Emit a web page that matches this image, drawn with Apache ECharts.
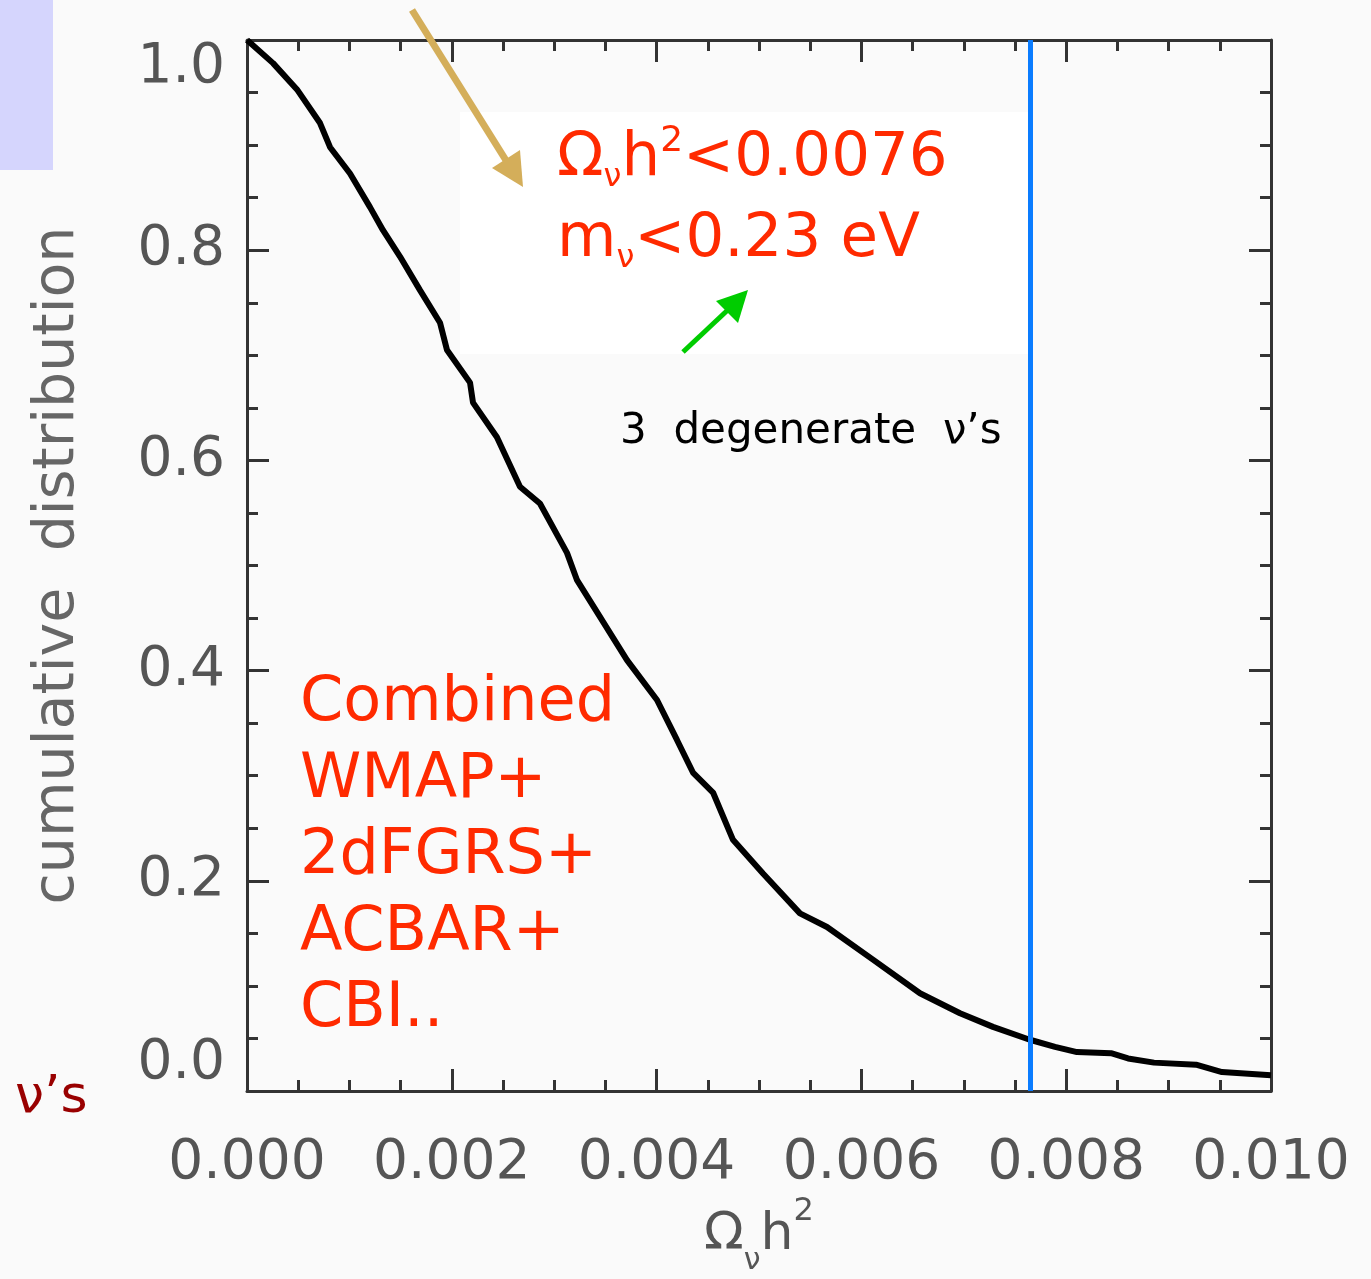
<!DOCTYPE html>
<html>
<head>
<meta charset="utf-8">
<script src="https://cdn.jsdelivr.net/npm/echarts@6/dist/echarts.min.js"></script>
<style>
html,body{margin:0;padding:0;background:#fafafa;}
#c{width:1371px;height:1279px;}
</style>
</head>
<body>
<div id="c"></div>
<script>
// Cumulative distribution of Omega_nu h^2
const omegaH2 = [0, 0.000254, 0.000488, 0.000713, 0.000811, 0.001006, 0.001201, 0.001328, 0.001494, 0.001689,
  0.001885, 0.001953, 0.002178, 0.002207, 0.002441, 0.002666, 0.002861, 0.003125, 0.003223, 0.003711,
  0.004004, 0.004199, 0.004355, 0.004551, 0.004746, 0.005039, 0.005400, 0.005664, 0.006113, 0.006572,
  0.006963, 0.007285, 0.007637, 0.007891, 0.008105, 0.008438, 0.008604, 0.008857, 0.009268, 0.009521, 0.010];
const cumulative = [1.0, 0.978, 0.953, 0.921, 0.898, 0.873, 0.841, 0.819, 0.794, 0.762,
  0.731, 0.705, 0.674, 0.655, 0.622, 0.575, 0.559, 0.512, 0.486, 0.410,
  0.372, 0.334, 0.303, 0.284, 0.239, 0.207, 0.169, 0.156, 0.125, 0.093,
  0.074, 0.061, 0.049, 0.042, 0.037, 0.036, 0.031, 0.027, 0.025, 0.018, 0.015];
const upperLimit = 0.00765;
const xTicks = { min: 0, max: 0.010, interval: 0.002 };
const yTicks = { min: 0, max: 1.0, interval: 0.2 };
const combinedLines = ['Combined', 'WMAP+', '2dFGRS+', 'ACBAR+', 'CBI..'];

const points = omegaH2.map((x, i) => [x, cumulative[i]]);
const tickFont = 'DejaVu Sans';
const axisCol = '#333';
const labelCol = '#555';
const red = '#ff2a00';

function axisCommon(showLabel, isX) {
  return {
    type: 'value',
    axisLine: { show: true, onZero: false, lineStyle: { color: axisCol, width: 3 } },
    axisTick: { show: true, inside: true, length: 22, lineStyle: { color: axisCol, width: 3 } },
    minorTick: { show: true, splitNumber: 4, length: 11, lineStyle: { color: axisCol, width: 3 } },
    splitLine: { show: false },
    axisLabel: showLabel ? Object.assign({
      show: true, fontFamily: tickFont, fontSize: 55, color: labelCol,
      margin: isX ? 45 : 22,
      formatter: v => isX ? v.toFixed(3) : v.toFixed(1)
    }, isX ? {} : { verticalAlignMinLabel: 'bottom', verticalAlignMaxLabel: 'top' }) : { show: false }
  };
}

const chart = echarts.init(document.getElementById('c'), null, { renderer: 'canvas' });
const option = {
  backgroundColor: '#fafafa',
  animation: false,
  grid: { left: 247, right: 100, top: 40, bottom: 188, containLabel: false, outerBoundsMode: 'none' },
  xAxis: [
    Object.assign(axisCommon(true, true), {
      min: xTicks.min, max: xTicks.max, interval: xTicks.interval, position: 'bottom',
      name: '{a|Ω}{s|ν}{a|h}{p|2}', nameLocation: 'middle', nameGap: 100,
      nameTextStyle: {
        color: labelCol, fontFamily: tickFont,
        rich: {
          a: { fontSize: 52, color: labelCol, fontFamily: tickFont, lineHeight: 80, verticalAlign: 'middle' },
          s: { fontSize: 30, color: labelCol, fontFamily: tickFont, lineHeight: 30, verticalAlign: 'bottom' },
          p: { fontSize: 32, color: labelCol, fontFamily: tickFont, lineHeight: 32, verticalAlign: 'top' }
        }
      }
    }),
    Object.assign(axisCommon(false, true), {
      min: xTicks.min, max: xTicks.max, interval: xTicks.interval, position: 'top'
    })
  ],
  yAxis: [
    Object.assign(axisCommon(true, false), {
      min: yTicks.min, max: yTicks.max, interval: yTicks.interval, position: 'left',
      name: 'cumulative  distribution', nameLocation: 'middle', nameGap: 160, nameRotate: 90,
      nameTextStyle: { color: '#666', fontFamily: tickFont, fontSize: 57 }
    }),
    Object.assign(axisCommon(false, false), {
      min: yTicks.min, max: yTicks.max, interval: yTicks.interval, position: 'right'
    })
  ],
  series: [{
    type: 'line',
    data: points,
    showSymbol: false,
    symbol: 'none',
    lineStyle: { color: '#000', width: 6 },
    z: 3,
    markLine: {
      silent: true,
      symbol: 'none',
      label: { show: false },
      lineStyle: { color: '#0a7cff', width: 5, type: 'solid' },
      data: [[{ coord: [upperLimit, 0] }, { coord: [upperLimit, 1] }]]
    }
  }],
  graphic: [
    { type: 'rect', z: -10, silent: true, shape: { x: 0, y: 0, width: 53, height: 170 }, style: { fill: '#d5d5fd' } },
    { type: 'rect', z: -5, silent: true, shape: { x: 460, y: 112, width: 568, height: 242 }, style: { fill: '#ffffff' } },
    // tan arrow
    { type: 'line', z: 20, shape: { x1: 412, y1: 10, x2: 507, y2: 162 }, style: { stroke: '#d4ae5a', lineWidth: 7 } },
    { type: 'polygon', z: 20, shape: { points: [[523, 187], [492, 168], [520, 150]] }, style: { fill: '#d4ae5a' } },
    // green arrow
    { type: 'line', z: 20, shape: { x1: 683, y1: 352, x2: 732, y2: 306 }, style: { stroke: '#00cc00', lineWidth: 5 } },
    { type: 'polygon', z: 20, shape: { points: [[748, 290], [716, 301], [738, 323]] }, style: { fill: '#00cc00' } },
    {
      type: 'text', z: 20, x: 557, y: 159,
      style: {
        text: '{a|Ω}{s|ν}{a|h}{p|2}{a|<0.0076}',
        verticalAlign: 'middle',
        rich: {
          a: { fontSize: 61, fill: red, fontFamily: 'DejaVu Sans', lineHeight: 70, verticalAlign: 'middle' },
          s: { fontSize: 32, fill: red, fontFamily: 'DejaVu Sans', lineHeight: 32, verticalAlign: 'bottom' },
          p: { fontSize: 36, fill: red, fontFamily: 'DejaVu Sans', lineHeight: 36, verticalAlign: 'top' }
        }
      }
    },
    {
      type: 'text', z: 20, x: 557, y: 240,
      style: {
        text: '{a|m}{s|ν}{a|<0.23 eV}',
        verticalAlign: 'middle',
        rich: {
          a: { fontSize: 61, fill: red, fontFamily: 'DejaVu Sans', lineHeight: 70, verticalAlign: 'middle' },
          s: { fontSize: 32, fill: red, fontFamily: 'DejaVu Sans', lineHeight: 32, verticalAlign: 'bottom' }
        }
      }
    },
    {
      type: 'text', z: 20, x: 620, y: 432,
      style: { text: '3  degenerate  ν’s', fill: '#000', font: '42px "DejaVu Sans"', verticalAlign: 'middle' }
    },
    {
      type: 'text', z: 20, x: 15, y: 1098,
      style: { text: 'ν’s', fill: '#990000', font: '52px "DejaVu Sans"', verticalAlign: 'middle' }
    }
  ].concat(combinedLines.map((t, i) => ({
    type: 'text', z: 20, x: 300, y: 704 + i * 76.5,
    style: { text: t, fill: red, font: '62px "DejaVu Sans"', verticalAlign: 'middle' }
  })))
};
chart.setOption(option);
</script>
</body>
</html>
